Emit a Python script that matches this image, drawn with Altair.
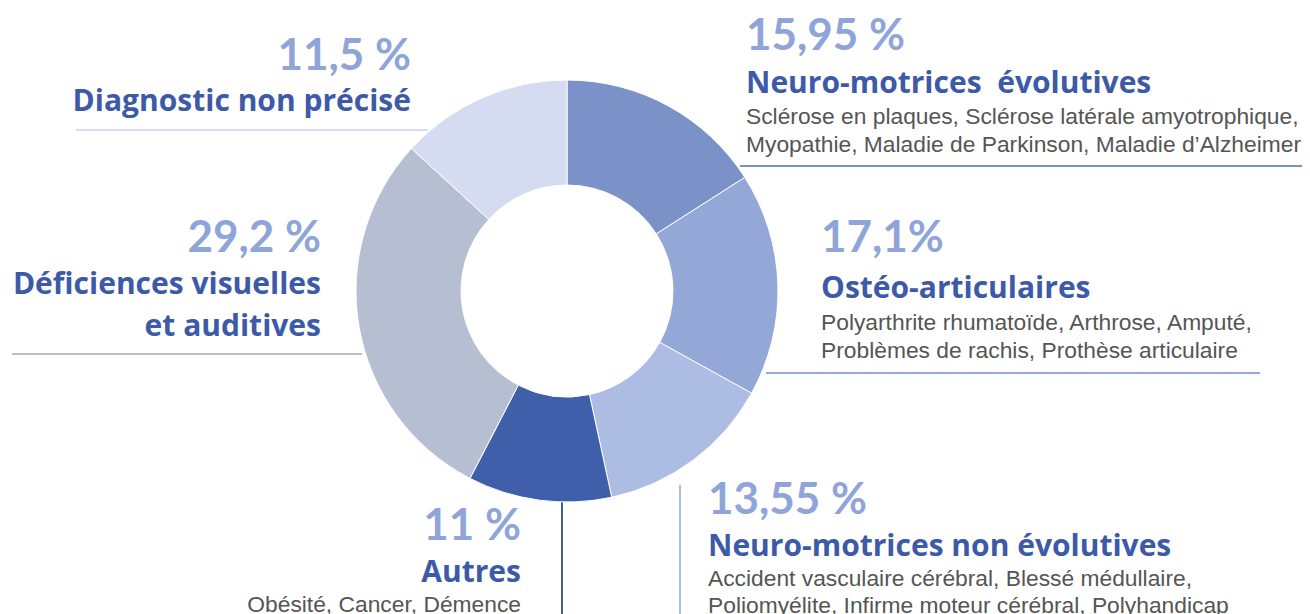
import altair as alt
import pandas as pd

# ---------------- data ----------------
categories = [
    "Neuro-motrices  évolutives",
    "Ostéo-articulaires",
    "Neuro-motrices non évolutives",
    "Autres",
    "Déficiences visuelles et auditives",
    "Diagnostic non précisé",
]
title_lines = [
    ["Neuro-motrices\u00a0 évolutives"],
    ["Ostéo-articulaires"],
    ["Neuro-motrices non évolutives"],
    ["Autres"],
    ["Déficiences visuelles", "et auditives"],
    ["Diagnostic non précisé"],
]
pct_labels = ["15,95 %", "17,1%", "13,55 %", "11 %", "29,2 %", "11,5 %"]
# slice sizes as drawn in the picture
slice_values = [15.95, 17.1, 13.55, 11.0, 29.2, 13.2]
descriptions = [
    ["Sclérose en plaques, Sclérose latérale amyotrophique,",
     "Myopathie, Maladie de Parkinson, Maladie d\u2019Alzheimer"],
    ["Polyarthrite rhumatoïde, Arthrose, Amputé,",
     "Problèmes de rachis, Prothèse articulaire"],
    ["Accident vasculaire cérébral, Blessé médullaire,",
     "Poliomyélite, Infirme moteur cérébral, Polyhandicap"],
    ["Obésité, Cancer, Démence"],
    [],
    [],
]
slice_colors = ["#7b92c9", "#94a8d7", "#adbce2", "#3f5fab", "#b6bfd2", "#d5dbf0"]

# ---------------- layout (page pixels) ----------------
OX, OY = 8, 8
W, H = 1294, 606
CX, CY, R_OUT, R_IN = 567, 291, 211, 106

PCT_COLOR = "#8fa5d9"
TITLE_COLOR = "#3d5aa8"
DESC_COLOR = "#555555"
PCT_FONT = "Lato"
TITLE_FONT = "Open Sans"
DESC_FONT = "Liberation Sans"
PCT_SIZE, TITLE_SIZE, DESC_SIZE = 44, 30, 22.8

# per label: anchor x, align, pct baseline, title baseline, title line step, desc baseline, desc step
layout = [
    dict(x=746, align="left", pct_y=50, title_y=93, tstep=42, desc_y=124, dstep=28),
    dict(x=821, align="left", pct_y=252, title_y=298, tstep=42, desc_y=330, dstep=28),
    dict(x=708, align="left", pct_y=514, title_y=556, tstep=42, desc_y=586, dstep=27),
    dict(x=521, align="right", pct_y=540, title_y=582, tstep=42, desc_y=612, dstep=28),
    dict(x=321, align="right", pct_y=252, title_y=294, tstep=42, desc_y=0, dstep=28),
    dict(x=411, align="right", pct_y=70, title_y=111, tstep=42, desc_y=0, dstep=28),
]
# connector lines: (x1, y1, x2, y2)
connectors = [
    (740, 166, 1310, 166),
    (766, 373, 1260, 373),
    (680, 485, 680, 614),
    (562, 502, 562, 614),
    (12, 354, 362, 354),
    (76, 130, 428, 130),
]

one = pd.DataFrame({"a": [0]})

df = pd.DataFrame({
    "cat": categories,
    "value": slice_values,
    "idx": list(range(len(categories))),
})

donut = alt.Chart(df).mark_arc(radius=R_OUT, radius2=R_IN, stroke="white", strokeWidth=1).encode(
    theta=alt.Theta("value:Q", stack=True),
    color=alt.Color("cat:N", scale=alt.Scale(domain=categories, range=slice_colors), legend=None),
    order=alt.Order("idx:Q"),
    x=alt.value(CX - OX),
    y=alt.value(CY - OY),
)


def txt(s, x, y, size, color, font, weight, align):
    return alt.Chart(one).mark_text(
        fontSize=size, font=font, fontWeight=weight, color=color,
        align=align, baseline="alphabetic",
    ).encode(x=alt.value(x - OX), y=alt.value(y - OY), text=alt.value(s))


layers = []
for i, (x1, y1, x2, y2) in enumerate(connectors):
    layers.append(
        alt.Chart(one).mark_rule(color=slice_colors[i], strokeWidth=2).encode(
            x=alt.value(x1 - OX), x2=alt.value(x2 - OX),
            y=alt.value(y1 - OY), y2=alt.value(y2 - OY),
        )
    )
layers.append(donut)
for i in range(len(categories)):
    L = layout[i]
    layers.append(txt(pct_labels[i], L["x"], L["pct_y"], PCT_SIZE, PCT_COLOR, PCT_FONT, "bold", L["align"]))
    for j, line in enumerate(title_lines[i]):
        layers.append(txt(line, L["x"], L["title_y"] + j * L["tstep"], TITLE_SIZE, TITLE_COLOR, TITLE_FONT, "bold", L["align"]))
    for j, line in enumerate(descriptions[i]):
        layers.append(txt(line, L["x"], L["desc_y"] + j * L["dstep"], DESC_SIZE, DESC_COLOR, DESC_FONT, "normal", L["align"]))

chart = alt.layer(*layers).properties(
    width=W, height=H, padding=0,
    autosize=alt.AutoSizeParams(type="none"),
    background="white",
).configure_view(stroke=None)

chart.save("out.html", embed_options={"renderer": "svg", "actions": False})
